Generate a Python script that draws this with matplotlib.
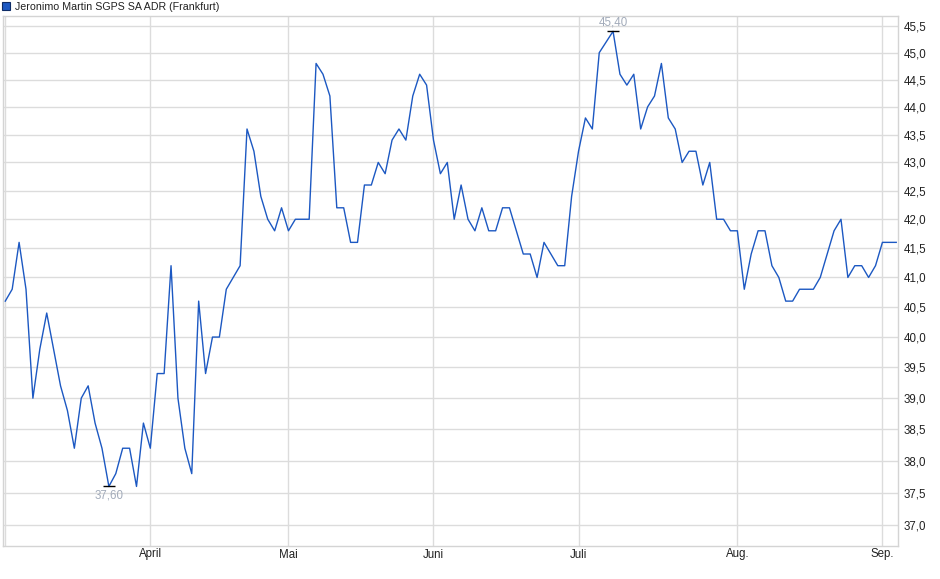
import matplotlib
matplotlib.use('Agg')
import matplotlib.pyplot as plt
import numpy as np
from matplotlib.patches import Rectangle
from matplotlib.ticker import FixedLocator, NullLocator

plt.rcParams['font.family'] = ['Liberation Sans', 'DejaVu Sans']

title = 'Jeronimo Martin SGPS SA ADR (Frankfurt)'

# daily closing prices (one per trading day)
prices = [
    40.6, 40.8, 41.6, 40.8, 39.0, 39.8, 40.4, 39.8, 39.2, 38.8,
    38.2, 39.0, 39.2, 38.6, 38.2, 37.6, 37.8, 38.2, 38.2, 37.6,
    38.6, 38.2, 39.4, 39.4, 41.2, 39.0, 38.2, 37.8, 40.6, 39.4,
    40.0, 40.0, 40.8, 41.0, 41.2, 43.6, 43.2, 42.4, 42.0, 41.8,
    42.2, 41.8, 42.0, 42.0, 42.0, 44.8, 44.6, 44.2, 42.2, 42.2,
    41.6, 41.6, 42.6, 42.6, 43.0, 42.8, 43.4, 43.6, 43.4, 44.2,
    44.6, 44.4, 43.4, 42.8, 43.0, 42.0, 42.6, 42.0, 41.8, 42.2,
    41.8, 41.8, 42.2, 42.2, 41.8, 41.4, 41.4, 41.0, 41.6, 41.4,
    41.2, 41.2, 42.4, 43.2, 43.8, 43.6, 45.0, 45.2, 45.4, 44.6,
    44.4, 44.6, 43.6, 44.0, 44.2, 44.8, 43.8, 43.6, 43.0, 43.2,
    43.2, 42.6, 43.0, 42.0, 42.0, 41.8, 41.8, 40.8, 41.4, 41.8,
    41.8, 41.2, 41.0, 40.6, 40.6, 40.8, 40.8, 40.8, 41.0, 41.4,
    41.8, 42.0, 41.0, 41.2, 41.2, 41.0, 41.2, 41.6, 41.6, 41.6,
]

month_labels = ['April', 'Mai', 'Juni', 'Juli', 'Aug.', 'Sep.']
month_starts = [21, 41, 62, 83, 106, 127]

y_ticks = [37.0, 37.5, 38.0, 38.5, 39.0, 39.5, 40.0, 40.5, 41.0,
           41.5, 42.0, 42.5, 43.0, 43.5, 44.0, 44.5, 45.0, 45.5]

line_col = '#1c58c2'
grid_col = '#dcdcdc'
text_col = '#222222'
fs = 8.3


def de(v, nd):
    return f'{v:.{nd}f}'.replace('.', ',')


W, H = 940, 579
fig = plt.figure(figsize=(W / 100, H / 100), dpi=100)
ax = fig.add_axes([3 / W, 1 - 546 / H, (898.3 - 3) / W, (546 - 16) / H])

x = np.arange(len(prices))
ax.plot(x, prices, color=line_col, lw=1, zorder=3)

ax.set_yscale('log')
ax.set_ylim(36.684, 45.689)
ax.set_xlim(-0.33, len(prices) - 0.7)

ax.yaxis.set_major_locator(FixedLocator(y_ticks))
ax.yaxis.set_minor_locator(NullLocator())
ax.set_yticklabels([de(v, 1) for v in y_ticks])
ax.yaxis.tick_right()
ax.tick_params(axis='y', length=0, pad=4, labelsize=fs, colors=text_col)

ax.set_xticks(month_starts, month_labels)
ax.xaxis.set_minor_locator(NullLocator())
ax.tick_params(axis='x', length=0, pad=1.8, labelsize=fs, colors=text_col)

ax.grid(True, color=grid_col, lw=1, zorder=0)
ax.axvline(0, color=grid_col, lw=1, zorder=0)
for s in ax.spines.values():
    s.set_color('#d4d4d4')
    s.set_linewidth(1)

# min / max markers
i_min = int(np.argmin(prices))
i_max = int(np.argmax(prices))
for i, off, va in [(i_min, -2.5, 'top'), (i_max, 2.0, 'bottom')]:
    ax.plot(i, prices[i], marker='_', ms=9, mew=1, color='black', zorder=4)
    ax.annotate(de(prices[i], 2), (i, prices[i]), xytext=(0, off),
                textcoords='offset points', ha='center', va=va,
                color='#a2abba', fontsize=fs)

# legend
fig.patches.append(Rectangle((2 / W, 1 - 10 / H), 8 / W, 8 / H,
                             transform=fig.transFigure, facecolor=line_col,
                             edgecolor='#0d2b66', lw=0.8))
fig.text(15 / W, 1 - 6.5 / H, title, va='center', ha='left',
         fontsize=7.7, color=text_col)

fig.savefig('out.png', dpi=100)
